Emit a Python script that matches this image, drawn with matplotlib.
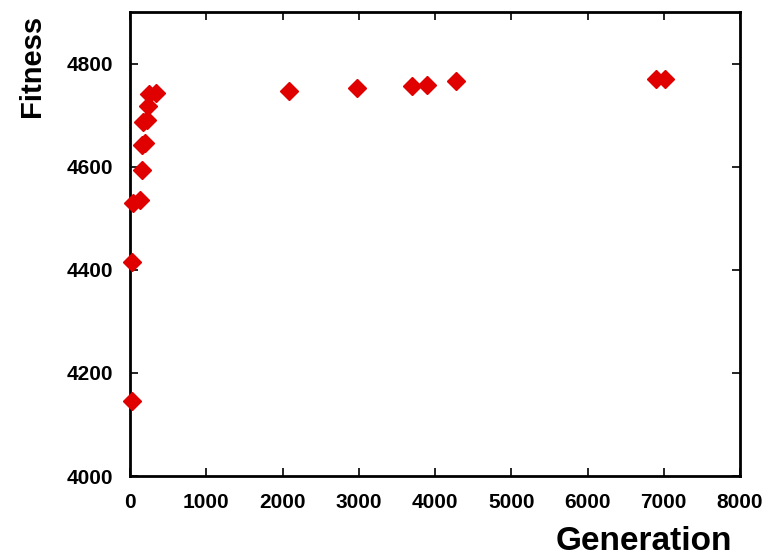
import matplotlib
matplotlib.use("Agg")
import matplotlib.pyplot as plt

# values
generation = [25, 25, 40, 130, 160, 160, 200, 170, 220, 230, 250, 340,
              2090, 2980, 3700, 3900, 4270, 6900, 7010]
fitness = [4146, 4416, 4529, 4535, 4593, 4642, 4646, 4687, 4691, 4718, 4741, 4743,
           4747, 4753, 4757, 4759, 4767, 4771, 4771]

x_ticks = [0, 1000, 2000, 3000, 4000, 5000, 6000, 7000, 8000]
y_ticks = [4000, 4200, 4400, 4600, 4800]

plt.rcParams["font.family"] = ["Liberation Sans", "DejaVu Sans"]

fig = plt.figure(figsize=(7.68, 5.56), dpi=100)
ax = fig.add_axes([130 / 768, 1 - 476 / 556, 610 / 768, 464 / 556])

ax.plot(generation, fitness, linestyle="none", marker="D", markersize=9.5,
        color="#e00000", markeredgecolor="#e00000", clip_on=False, zorder=3)

ax.set_xlim(0, 8000)
ax.set_ylim(4000, 4900)
ax.set_xticks(x_ticks)
ax.set_yticks(y_ticks)
ax.tick_params(direction="in", length=6, width=1.2, top=True, right=True,
               labelsize=15)
ax.tick_params(axis="x", pad=12)
ax.tick_params(axis="y", pad=12)
for lab in ax.get_xticklabels() + ax.get_yticklabels():
    lab.set_fontweight("bold")
for sp in ax.spines.values():
    sp.set_linewidth(2)

fig.text(32 / 768, 1 - 66 / 556, "Fitness", rotation=90, ha="center", va="center",
         fontsize=21, fontweight="bold")
fig.text(732 / 768, 1 - 541 / 556, "Generation", ha="right", va="center",
         fontsize=24, fontweight="bold")

fig.savefig("out.png", dpi=100)
